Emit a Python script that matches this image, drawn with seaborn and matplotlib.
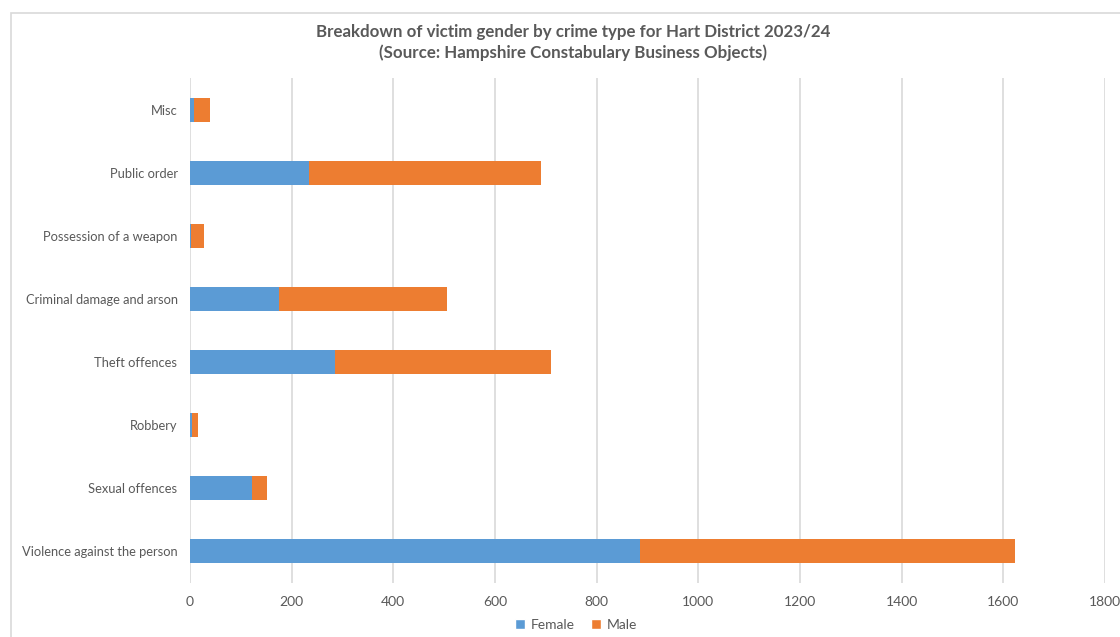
import matplotlib
matplotlib.use("Agg")
import matplotlib.pyplot as plt
from matplotlib.patches import Rectangle, Patch
import seaborn as sns
import pandas as pd

categories = [
    "Misc",
    "Public order",
    "Possession of a weapon",
    "Criminal damage and arson",
    "Theft offences",
    "Robbery",
    "Sexual offences",
    "Violence against the person",
]
female = [8, 235, 1, 176, 286, 3, 122, 886]
male = [32, 455, 27, 330, 425, 13, 30, 737]
x_ticks = [0, 200, 400, 600, 800, 1000, 1200, 1400, 1600, 1800]

BLUE = "#5B9BD5"
ORANGE = "#ED7D31"
TEXT = "#595959"
GRID = "#D9D9D9"

df = pd.DataFrame({"category": categories, "Female": female, "Male": male})
df["Total"] = df["Female"] + df["Male"]

sns.set_theme(style="white")
plt.rcParams["font.family"] = ["Lato", "DejaVu Sans"]

fig = plt.figure(figsize=(11.2, 6.37), dpi=100)
ax = fig.add_axes([190 / 1120, 1 - 583 / 637, (1105 - 190) / 1120, (583 - 78) / 637])

# stacked bars: total (male on the right) drawn first, female drawn over it
sns.barplot(data=df, y="category", x="Total", order=categories, color=ORANGE,
            orient="h", width=0.38, saturation=1, linewidth=0, ax=ax, zorder=3)
sns.barplot(data=df, y="category", x="Female", order=categories, color=BLUE,
            orient="h", width=0.38, saturation=1, linewidth=0, ax=ax, zorder=4)

ax.set_xlim(0, 1800)
ax.set_ylim(len(categories) - 0.5, -0.5)
ax.set_xticks(x_ticks)
ax.set_xticklabels([str(v) for v in x_ticks])
ax.set_xlabel("")
ax.set_ylabel("")
ax.xaxis.grid(True, color=GRID, linewidth=1.2, zorder=0)
ax.yaxis.grid(False)
ax.set_axisbelow(True)
for s in ax.spines.values():
    s.set_visible(False)
ax.tick_params(axis="x", colors=TEXT, labelsize=10, length=0, pad=9)
ax.tick_params(axis="y", colors=TEXT, labelsize=9.3, length=0, pad=9)

title_x = 573 / 1120
fig.text(title_x, 1 - 32 / 637, "Breakdown of victim gender by crime type for Hart District 2023/24",
         ha="center", va="center", fontsize=12.2, fontweight="bold", color=TEXT)
fig.text(title_x, 1 - 53 / 637, "(Source: Hampshire Constabulary Business Objects)",
         ha="center", va="center", fontsize=12.2, fontweight="bold", color=TEXT)

handles = [Patch(facecolor=BLUE, label="Female"), Patch(facecolor=ORANGE, label="Male")]
fig.legend(handles=handles, loc="center", bbox_to_anchor=(576 / 1120, 1 - 625 / 637),
           ncol=2, frameon=False, fontsize=10, labelcolor=TEXT, handlelength=0.7,
           handleheight=0.7, handletextpad=0.4, columnspacing=1.2)

fig.patches.append(Rectangle((11 / 1120, -0.05), 1.2, 1 - 13 / 637 + 0.05,
                             transform=fig.transFigure, fill=False,
                             edgecolor=GRID, linewidth=1.2))

fig.savefig("out.png", dpi=100, facecolor="white")
